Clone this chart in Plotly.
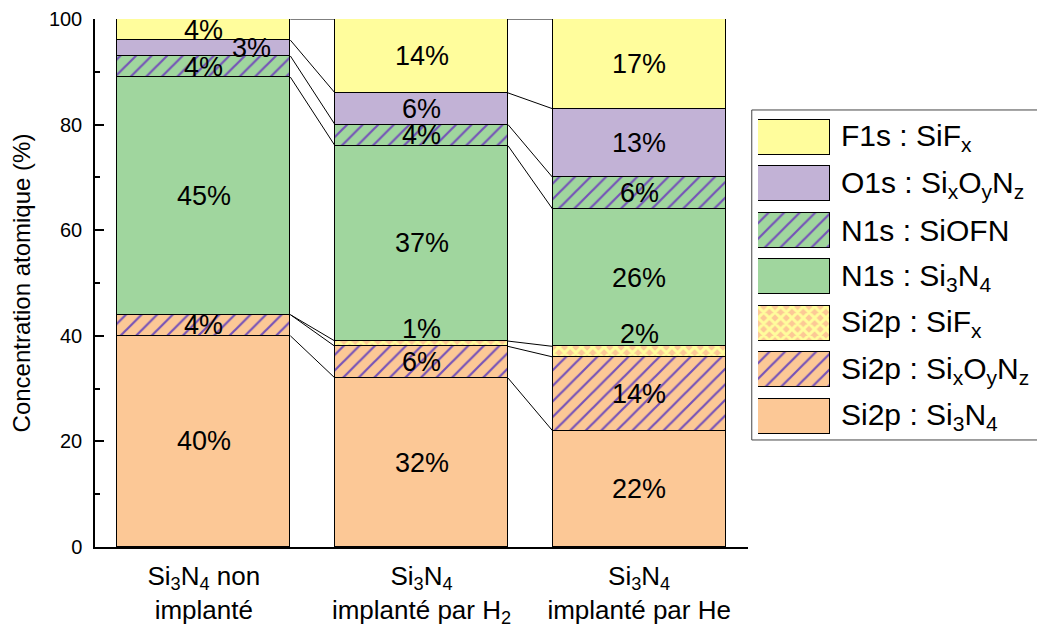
import plotly.graph_objects as go

# samples (x categories)
samples = ["Si<sub>3</sub>N<sub>4</sub> non<br>implanté",
           "Si<sub>3</sub>N<sub>4</sub><br>implanté par H<sub>2</sub>",
           "Si<sub>3</sub>N<sub>4</sub><br>implanté par He"]

# components, bottom to top of the stack
names = ["Si2p : Si<sub>3</sub>N<sub>4</sub>",
         "Si2p : Si<sub>x</sub>O<sub>y</sub>N<sub>z</sub>",
         "Si2p : SiF<sub>x</sub>",
         "N1s : Si<sub>3</sub>N<sub>4</sub>",
         "N1s : SiOFN",
         "O1s : Si<sub>x</sub>O<sub>y</sub>N<sub>z</sub>",
         "F1s : SiF<sub>x</sub>"]

si2p_si3n4 = [40, 32, 22]
si2p_sixoynz = [4, 6, 14]
si2p_sifx = [0, 1, 2]
n1s_si3n4 = [45, 37, 26]
n1s_siofn = [4, 4, 6]
o1s_sixoynz = [3, 6, 13]
f1s_sifx = [4, 14, 17]

series = [si2p_si3n4, si2p_sixoynz, si2p_sifx, n1s_si3n4, n1s_siofn, o1s_sixoynz, f1s_sifx]

ORANGE = "#FCC896"
YELLOW = "#FFFD9C"
GREEN = "#A0D69E"
LILAC = "#C2B2D6"
HATCH = "#7552B8"

# (background, pattern shape, pattern colour)
styles = [
    (ORANGE, "", None),
    (ORANGE, "/", HATCH),
    (ORANGE, "x", YELLOW),
    (GREEN, "", None),
    (GREEN, "/", HATCH),
    (LILAC, "", None),
    (YELLOW, "", None),
]

BAR_W = 0.795
FONT = "Liberation Sans, Arial, sans-serif"


def pattern(shape, fg):
    if not shape:
        return dict(shape="")
    if shape == "x":
        return dict(shape="x", fgcolor=fg, fgopacity=1, size=8, solidity=0.6)
    return dict(shape=shape, fgcolor=fg, fgopacity=1, size=11, solidity=0.2)


fig = go.Figure()
xs = list(range(len(samples)))

for vals, name, (bg, shp, fg) in zip(series, names, styles):
    fig.add_trace(go.Bar(x=xs, y=vals, width=BAR_W, name=name, showlegend=False,
                         marker=dict(color=bg, pattern=pattern(shp, fg),
                                     line=dict(color="black", width=1.4))))

# cumulative tops
cums = []
run = [0] * len(samples)
for vals in series:
    run = [r + v for r, v in zip(run, vals)]
    cums.append(run)

# connecting lines between bars
lx, ly = [], []
for cum in cums:
    for i in range(len(samples) - 1):
        lx += [i + BAR_W / 2, i + 1 - BAR_W / 2, None]
        ly += [cum[i], cum[i + 1], None]
fig.add_trace(go.Scatter(x=lx, y=ly, mode="lines", line=dict(color="black", width=1),
                         showlegend=False, hoverinfo="skip"))

# value labels
for k, (vals, cum) in enumerate(zip(series, cums)):
    for i, v in enumerate(vals):
        if v == 0:
            continue
        xshift = 0
        if v < 3:
            y, ya, ys = cum[i], "bottom", -5
        else:
            y, ya, ys = cum[i] - v / 2, "middle", 0
        if k == 5 and i == 0:
            xshift = 48
        fig.add_annotation(x=i, y=y, text=f"{v}%", showarrow=False, yanchor=ya,
                           yshift=ys, xshift=xshift, font=dict(size=27, color="black"))

# custom legend drawn on a second pair of axes
leg_y = list(range(len(names)))  # bottom item is Si2p : Si3N4
for j, (name, (bg, shp, fg)) in enumerate(zip(names, styles)):
    fig.add_trace(go.Bar(x=[1], y=[leg_y[j]], base=0, orientation="h", width=0.754,
                         xaxis="x2", yaxis="y2", showlegend=False, hoverinfo="skip",
                         marker=dict(color=bg, pattern=pattern(shp, fg),
                                     line=dict(color="black", width=1.2))))
    fig.add_annotation(xref="paper", yref="y2", x=0.787, y=leg_y[j], xanchor="left",
                       text=name, showarrow=False, font=dict(size=30, color="black"))

fig.add_shape(type="rect", xref="paper", yref="paper", x0=0.695, x1=1.0, y0=0.2027, y1=0.8277,
              line=dict(color="#444444", width=1))

# page body has an 8px margin, so the figure is 8px smaller than the window
fig.update_layout(
    width=1037, height=620,
    margin=dict(l=87, r=5, t=11, b=81),
    barmode="stack",
    bargap=0,
    plot_bgcolor="white", paper_bgcolor="white",
    font=dict(family=FONT, color="black"),
    xaxis=dict(domain=[0, 0.691], range=[-0.5, 2.5], tickvals=xs, ticktext=samples,
               showline=True, linecolor="black", linewidth=1.5, ticks="",
               showgrid=False, zeroline=False, tickfont=dict(size=26), automargin=False,
               ticklabelstandoff=5),
    yaxis=dict(range=[0, 100], dtick=20, showline=True, linecolor="black", linewidth=1.5,
               ticks="inside", ticklen=9, tickwidth=1.5, tickcolor="black",
               minor=dict(dtick=10, ticks="inside", ticklen=5, tickwidth=1.5, tickcolor="black"),
               showgrid=False, zeroline=False, tickfont=dict(size=20), automargin=False,
               ticklabelstandoff=7,
               title=dict(text="Concentration atomique (%)", font=dict(size=24), standoff=14)),
    xaxis2=dict(domain=[0.7016, 0.7778], range=[0, 1], visible=False, anchor="y2"),
    yaxis2=dict(domain=[0.203, 0.8195], range=[-0.5, 6.5], visible=False, anchor="x2"),
)

fig.write_html("out.html")
